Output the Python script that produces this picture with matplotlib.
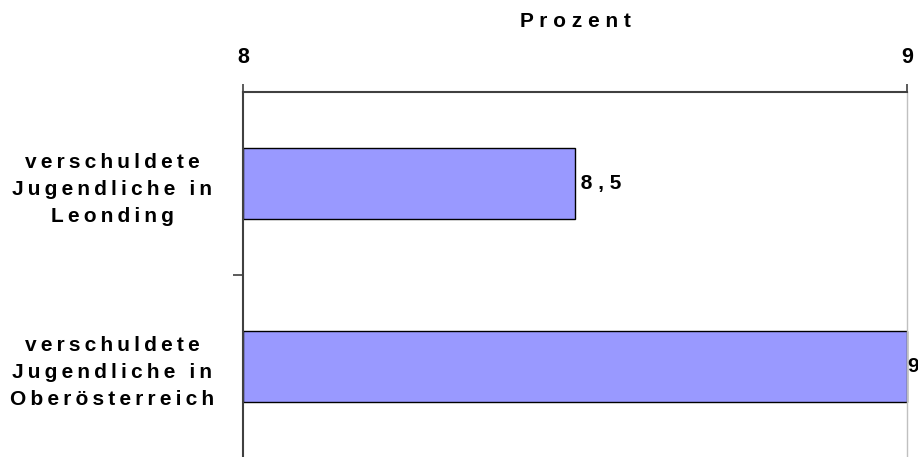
import matplotlib.pyplot as plt
from matplotlib.ticker import FixedLocator

plt.rcParams['font.family'] = ['Liberation Sans', 'DejaVu Sans']
plt.rcParams['font.weight'] = 'bold'

# Daten
kategorien = ["verschuldete\nJugendliche in\nLeonding",
              "verschuldete\nJugendliche in\nOberösterreich"]
werte = [8.5, 9.0]
x_min, x_max = 8, 9
x_ticks = [8, 9]
achsen_titel = "Prozent"


def gesperrt(text, sep=" "):
    # Sperrschrift wie im Original (Abstand zwischen den Buchstaben)
    return "\n".join(sep.join(zeile) for zeile in text.split("\n"))


fig = plt.figure(figsize=(9.18, 4.57), dpi=100)
ax = fig.add_axes([243 / 918, -1 / 457, 664 / 918, 366 / 457])

y = list(range(len(werte)))
ax.barh(y, [w - x_min for w in werte], left=x_min, height=0.39,
        color="#9999FF", edgecolor="black", linewidth=1.0, clip_on=False)

ax.set_xlim(x_min, x_max)
ax.set_ylim(1.5, -0.5)

# x-Achse oben
ax.xaxis.tick_top()
ax.xaxis.set_label_position("top")
ax.set_xticks(x_ticks)
ax.set_xticklabels([str(t) for t in x_ticks], fontsize=15.5, fontweight="bold")
ax.tick_params(axis="x", direction="out", length=6, width=1.2,
               color="#404040", pad=11)
ax.set_xlabel(gesperrt(achsen_titel), fontsize=15, fontweight="bold",
              labelpad=15)

# y-Achse: Kategorien, Trennstrich zwischen den Gruppen
ax.set_yticks(y)
ax.set_yticklabels([gesperrt(k, "\u2009") for k in kategorien], fontsize=15,
                   fontweight="bold", ha="center", linespacing=1.53)
ax.tick_params(axis="y", which="major", length=0, pad=94)
ax.yaxis.set_minor_locator(FixedLocator([0.5]))
ax.tick_params(axis="y", which="minor", direction="out", length=7,
               width=1.2, color="#404040")

ax.spines["bottom"].set_visible(False)
ax.spines["top"].set_color("#404040")
ax.spines["top"].set_linewidth(1.5)
ax.spines["left"].set_color("#404040")
ax.spines["left"].set_linewidth(1.5)
ax.spines["right"].set_color("#c0c0c0")
ax.spines["right"].set_linewidth(1.0)

# Wertbeschriftung (am Rand ohne Abstand, wie im Original)
for yi, w in zip(y, werte):
    abstand = "" if w >= x_max else " "
    ax.text(w, yi, abstand + gesperrt(f"{w:g}".replace(".", ",")),
            va="center", ha="left", fontsize=15, fontweight="bold",
            clip_on=False)

fig.savefig("out.png", dpi=100)
